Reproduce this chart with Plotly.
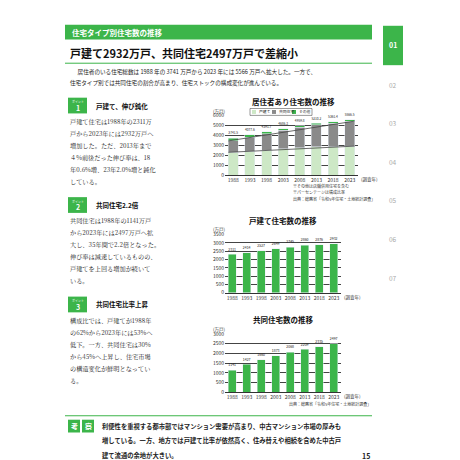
import plotly.graph_objects as go

years = ["1988", "1993", "1998", "2003", "2008", "2013", "2018", "2023"]
detached = [2311, 2414, 2527, 2649, 2745, 2860, 2876, 2932]
apartment = [1141, 1427, 1660, 1873, 2068, 2209, 2335, 2497]
other = [290, 237, 205, 164, 147, 141, 151, 138]
totals = ["3741.5", "4077.6", "4391.7", "4686.3", "4959.8", "5210.2", "5361.4", "5566.5"]

W = 460.0
def X(px): return px / W
def Y(py): return 1 - py / W

GREEN = "#3cb54a"; LIGHT = "#cde8c6"; GRAY = "#8a8a8a"
F = "Noto Sans CJK JP"

fig = go.Figure()
fig.add_bar(x=years, y=detached, marker_color=LIGHT, width=0.6, xaxis="x", yaxis="y", showlegend=False)
fig.add_bar(x=years, y=apartment, marker_color=GRAY, width=0.6, xaxis="x", yaxis="y", showlegend=False)
fig.add_bar(x=years, y=other, marker_color=GREEN, width=0.6, xaxis="x", yaxis="y", showlegend=False,
            text=totals, textposition="outside", textfont=dict(size=5, color="#222"), cliponaxis=False)
fig.add_bar(x=years, y=detached, marker_color=GREEN, width=0.55, showlegend=False, xaxis="x2", yaxis="y2",
            text=[str(v) for v in detached], textposition="outside", textfont=dict(size=5, color="#222"), cliponaxis=False)
fig.add_bar(x=years, y=apartment, marker_color=GREEN, width=0.55, showlegend=False, xaxis="x3", yaxis="y3",
            text=[str(v) for v in apartment], textposition="outside", textfont=dict(size=5, color="#222"), cliponaxis=False)

ax = dict(type="category", range=[-0.5, 7.5], tickfont=dict(size=5, family=F, color="#333"), showline=True,
          linecolor="#333", linewidth=0.8, ticks="")
ay = dict(tickfont=dict(size=5, family=F, color="#333"), showgrid=True, gridcolor="#444", gridwidth=0.6,
          zeroline=False, showline=False)

fig.update_layout(
    width=460, height=460, margin=dict(l=0, r=0, t=0, b=0), paper_bgcolor="white", plot_bgcolor="white",
    barmode="stack", font=dict(family=F), showlegend=False,
    xaxis=dict(ax, domain=[X(217), X(350)], anchor="y"),
    yaxis=dict(ay, domain=[Y(166), Y(105)], range=[0, 6000], dtick=1000, anchor="x"),
    xaxis2=dict(ax, domain=[X(217), X(333)], anchor="y2"),
    yaxis2=dict(ay, domain=[Y(285), Y(226)], range=[0, 3500], dtick=500, anchor="x2"),
    xaxis3=dict(ax, domain=[X(217), X(333)], anchor="y3"),
    yaxis3=dict(ay, domain=[Y(386), Y(327)], range=[0, 3000], dtick=500, anchor="x3"),
)

shapes = []
anns = []
def rect(x0, y0, x1, y1, color, lw=0, lc="#333", layer="below"):
    shapes.append(dict(type="rect", xref="paper", yref="paper", x0=X(x0), x1=X(x1), y0=Y(y1), y1=Y(y0),
                       fillcolor=color, line=dict(width=lw, color=lc), layer=layer))
def line(x0, y0, x1, y1, color, w=1):
    shapes.append(dict(type="line", xref="paper", yref="paper", x0=X(x0), x1=X(x1), y0=Y(y0), y1=Y(y1),
                       line=dict(color=color, width=w)))
def text(x, y, s, size=7, color="#222", anchor="left", bold=False, fam=F):
    if bold: s = "<b>" + s + "</b>"
    anns.append(dict(xref="paper", yref="paper", x=X(x), y=Y(y), text=s, showarrow=False, xanchor=anchor,
                     yanchor="middle", font=dict(size=size, color=color, family=fam)))

# trend lines in chart 1
cum2 = [a + b for a, b in zip(detached, apartment)]
for ys in (detached, cum2):
    shapes.append(dict(type="line", xref="x", yref="y", x0=-0.3, x1=7.3, y0=ys[0], y1=ys[-1],
                       line=dict(color="#444", width=0.8), layer="above"))

# header
rect(57, 13, 364, 28, GREEN)
text(62, 20.5, "住宅タイプ別住宅数の推移", 7.5, "white", bold=True)
text(60, 42, "戸建て2932万戸、共同住宅2497万戸で差縮小", 11, "#111", bold=True)
line(57, 52, 364, 52, GREEN, 1)
text(62, 61, "　居住者のいる住宅総数は 1988 年の 3741 万戸から 2023 年には 5566 万戸へ拡大した。一方で、", 5.6)
text(60, 72, "住宅タイプ別では共同住宅の割合が高まり、住宅ストックの構成変化が進んでいる。", 5.6)

# right tabs
rect(375, 14, 395, 54, GREEN)
text(385, 34, "01", 7, "white", "center", True)
for i, yy in enumerate([74, 113, 152, 191, 231, 270]):
    text(385, yy, "0%d" % (i + 2), 6.5, "#aaa", "center")

def point(yb, num, title, lines):
    rect(60, yb, 79, yb + 16, GREEN)
    text(69.5, yb + 4, "ポイント", 3, "white", "center")
    text(69.5, yb + 10.5, num, 7, "white", "center", True)
    text(86, yb + 8, title, 6.5, "#111", bold=True)
    for i, s in enumerate(lines):
        text(60, yb + 24 + i * 12.2, s, 6.2, "#222", fam="Noto Serif CJK JP, Noto Sans CJK JP")

point(87, "1", "戸建て、伸び鈍化", ["戸建て住宅は1988年の2311万", "戸から2023年には2932万戸へ",
      "増加した。ただ、2013年まで", "４%前後だった伸び率は、18", "年0.6%増、23年2.0%増と鈍化", "している。"])
point(188, "2", "共同住宅2.2倍", ["共同住宅は1988年の1141万戸", "から2023年には2497万戸へ拡",
      "大し、35年間で2.2倍となった。", "伸び率は減速しているものの、", "戸建てを上回る増加が続いて", "いる。"])
point(289, "3", "共同住宅比率上昇", ["構成比では、戸建てが1988年", "の62%から2023年には53%へ",
      "低下。一方、共同住宅は30%", "から45%へ上昇し、住宅市場", "の構造変化が鮮明となってい", "る。"])

text(285, 91, "居住者あり住宅数の推移", 7.5, "#111", "center", True)
text(275, 212, "戸建て住宅数の推移", 7.5, "#111", "center", True)
text(275, 312, "共同住宅数の推移", 7.5, "#111", "center", True)
for yy in [101, 221, 322]:
    text(203, yy, "(万戸)", 4.5, "#333")
# manual legend
rect(242, 98, 304, 105, "white", 0.5, "#333", "above")
for i, (c, lab) in enumerate([(LIGHT, "戸建て"), (GRAY, "共同住宅"), (GREEN, "その他")]):
    x0 = 244 + i * 20
    rect(x0, 99.5, x0 + 4, 103.5, c, 0, "#333", "above")
    text(x0 + 5, 101.5, lab, 3.8, "#222")
text(351, 170.5, "(調査年)", 4.5, "#333")
text(334, 289.5, "(調査年)", 4.5, "#333")
text(334, 390.5, "(調査年)", 4.5, "#333")
text(283, 177, "※その他は店舗併用住宅を含む", 4, "#333")
text(283, 183, "※パーセンテージは構成比率", 4, "#333")
text(283, 190, "出典：総務省「令和5年住宅・土地統計調査」", 4, "#333")
text(365, 398, "出典：総務省「令和5年住宅・土地統計調査」", 4, "#333", "right")
for xx, yy, s in [(years[0], 1150, "62%"), (years[0], 2900, "30%"), (years[-1], 1450, "53%"), (years[-1], 4150, "45%")]:
    anns.append(dict(xref="x", yref="y", x=xx, y=yy, text=s, showarrow=False, font=dict(size=5.5, color="#333")))

line(57, 410, 364, 410, GREEN, 1)
rect(60, 414, 72, 427, GREEN); rect(74, 414, 86, 427, GREEN)
text(66, 420.5, "考", 7, "white", "center", True); text(80, 420.5, "察", 7, "white", "center", True)
text(92, 420.5, "利便性を重視する都市部ではマンション需要が高まり、中古マンション市場の厚みも", 6.3, "#222", bold=True)
text(92, 435.5, "増している。一方、地方では戸建て比率が依然高く、住み替えや相続を含めた中古戸", 6.3, "#222", bold=True)
text(92, 450.5, "建て流通の余地が大きい。", 6.3, "#222", bold=True)
text(364, 451, "15", 7, "#222", "right", True)

fig.update_layout(shapes=shapes, annotations=anns)
fig.write_html("out.html")
